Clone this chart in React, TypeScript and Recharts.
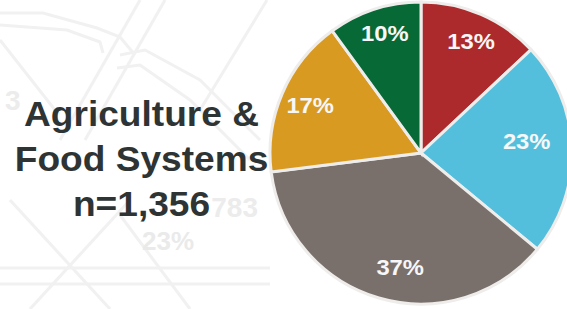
import React from "react";
import { PieChart, Pie, Cell } from "recharts";

const categories = ["Red", "Light blue", "Gray", "Orange", "Green"];
const shares = [13, 23, 37, 17, 10];
const colors = ["#ad2a2c", "#54bfdc", "#79706b", "#d99a22", "#076936"];

const titleLines = ["Agriculture &", "Food Systems", "n=1,356"];

const data = categories.map((name, i) => ({ name, value: shares[i] }));

const RAD = Math.PI / 180;
// label placement tweaks (the original uses "best fit" placement)
const labelRadius = [0.8, 0.7, 0.78, 0.8, 0.82];
const labelNudge = [
  [2, -1],
  [0, -8],
  [12, 1],
  [0, 0],
  [2, -2],
];

const FONT = "'Liberation Sans', Arial, sans-serif";

const renderLabel = (props: any) => {
  const { cx, cy, midAngle, outerRadius, index, value } = props;
  const r = outerRadius * labelRadius[index];
  const x = cx + r * Math.cos(-midAngle * RAD) + labelNudge[index][0];
  const y = cy + r * Math.sin(-midAngle * RAD) + labelNudge[index][1];
  return (
    <text
      x={0}
      y={0}
      transform={`translate(${x},${y}) scale(1.08,1)`}
      fill="#f7f7f7"
      textAnchor="middle"
      dominantBaseline="central"
      style={{ fontFamily: FONT, fontWeight: 700, fontSize: 22 }}
    >
      {`${value}%`}
    </text>
  );
};

// faint watermark graphics behind the slide
function Backdrop() {
  const s = { fill: "none", stroke: "#f1f1f1", strokeWidth: 3 };
  return (
    <svg width={567} height={309} style={{ position: "absolute", left: 0, top: 0 }}>
      <polyline points="0,13 43,13 97,28 120,37 135,55" {...s} />
      <polyline points="0,25 67,30 100,42 103,53" {...s} />
      <polyline points="120,55 145,50 200,80 260,140" {...s} />
      <polyline points="117,68 140,65 190,100 250,160" {...s} />
      <line x1={140} y1={0} x2={60} y2={140} {...s} />
      <line x1={165} y1={0} x2={85} y2={140} {...s} />
      <line x1={267} y1={0} x2={200} y2={110} {...s} />
      <line x1={0} y1={40} x2={55} y2={110} {...s} />
      <line x1={0} y1={268} x2={270} y2={268} {...s} />
      <line x1={0} y1={284} x2={270} y2={284} {...s} />
      <line x1={10} y1={200} x2={110} y2={309} {...s} />
      <line x1={30} y1={309} x2={130} y2={200} {...s} />
      <line x1={190} y1={309} x2={120} y2={215} {...s} />
      <text x={5} y={110} fill="#ececec" style={{ fontFamily: FONT, fontWeight: 700, fontSize: 28 }}>3</text>
      <text x={258} y={217} textAnchor="end" fill="#ececec" style={{ fontFamily: FONT, fontWeight: 700, fontSize: 28 }}>783</text>
      <text x={142} y={250} fill="#eaeaea" style={{ fontFamily: FONT, fontWeight: 700, fontSize: 26 }}>23%</text>
    </svg>
  );
}

export default function App() {
  return (
    <div style={{ position: "absolute", left: 0, top: 0, width: 567, height: 309, background: "#ffffff", overflow: "hidden" }}>
      <Backdrop />
      <div
        style={{
          position: "absolute",
          left: 0,
          top: 91,
          width: 283,
          textAlign: "center",
          fontFamily: FONT,
          fontWeight: 700,
          fontSize: 35,
          lineHeight: "45px",
          color: "#2e3434",
          transform: "scaleX(1.06)",
          transformOrigin: "141px 0",
        }}
      >
        {titleLines.map((t) => (
          <div key={t}>{t}</div>
        ))}
      </div>
      <div style={{ position: "absolute", left: 0, top: 0 }}>
        <PieChart width={567} height={309} margin={{ top: 0, right: 0, bottom: 0, left: 0 }}>
          <Pie
            data={data}
            dataKey="value"
            nameKey="name"
            cx={421}
            cy={153}
            outerRadius={151}
            startAngle={90}
            endAngle={-270}
            stroke="#efedeb"
            strokeWidth={3}
            label={renderLabel}
            labelLine={false}
            isAnimationActive={false}
          >
            {data.map((d, i) => (
              <Cell key={d.name} fill={colors[i]} />
            ))}
          </Pie>
        </PieChart>
      </div>
    </div>
  );
}
